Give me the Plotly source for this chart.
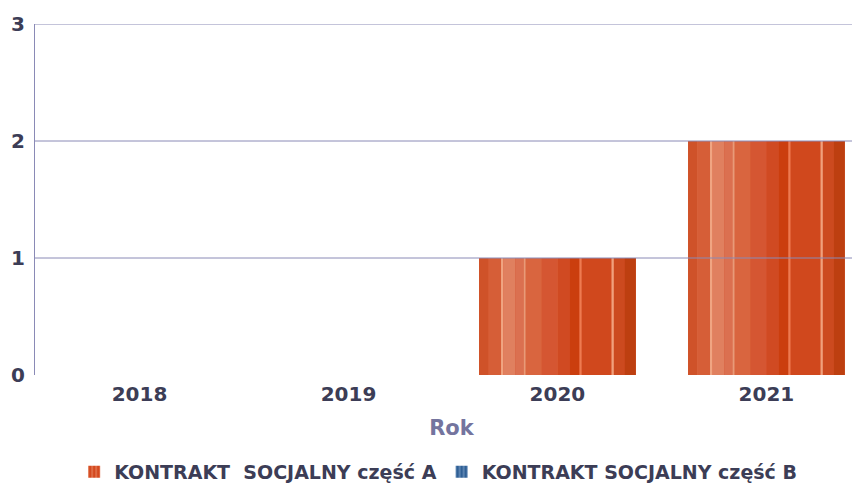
import plotly.graph_objects as go

years = ["2018", "2019", "2020", "2021"]
part_a = [0, 0, 1, 2]
part_b = [0, 0, 0, 0]
y_ticks = [0, 1, 2, 3]

TEXT = "#3c3d56"
GRID = "#8a8ab6"
FONT = "DejaVu Sans, Verdana, sans-serif"
BAR_W = 0.75

# vertical shading of the "tube" bars: (start, end, colour) as fractions of bar width
BANDS = [
    (0.000, 0.060, "#cf5229"),
    (0.060, 0.140, "#d65e37"),
    (0.140, 0.155, "#f0a582"),
    (0.155, 0.230, "#e0805f"),
    (0.230, 0.285, "#db7050"),
    (0.285, 0.298, "#e89a78"),
    (0.298, 0.400, "#d9653f"),
    (0.400, 0.500, "#d55632"),
    (0.500, 0.580, "#d04a22"),
    (0.580, 0.640, "#cb3e0e"),
    (0.640, 0.655, "#ee7a50"),
    (0.655, 0.845, "#d0481d"),
    (0.845, 0.860, "#f0a07c"),
    (0.860, 0.930, "#cc4a1f"),
    (0.930, 1.000, "#bd3f10"),
]

fig = go.Figure()
fig.add_trace(
    go.Bar(
        x=years,
        y=part_a,
        name="KONTRAKT  SOCJALNY część A",
        width=BAR_W,
        marker=dict(
            color="#d4491f",
            line=dict(width=0),
            pattern=dict(shape="|", fgcolor="#f2a98a", size=5, solidity=0.35),
        ),
    )
)
for start, end, col in BANDS:
    fig.add_trace(
        go.Bar(
            x=years,
            y=part_a,
            width=BAR_W * (end - start),
            offset=-BAR_W / 2 + BAR_W * start,
            marker=dict(color=col, line=dict(width=0)),
            showlegend=False,
            hoverinfo="skip",
        )
    )
fig.add_trace(
    go.Bar(
        x=years,
        y=part_b,
        name="KONTRAKT SOCJALNY część B",
        width=BAR_W,
        marker=dict(
            color="#2f5f95",
            line=dict(width=0),
            pattern=dict(shape="|", fgcolor="#a9c4e2", size=5, solidity=0.35),
        ),
    )
)

# gridlines sit over the bars in the original
for v in y_ticks[1:]:
    fig.add_shape(
        type="line",
        xref="paper",
        yref="y",
        x0=0,
        x1=1,
        y0=v,
        y1=v,
        line=dict(color=GRID, width=1),
        layer="above",
    )

fig.update_layout(
    width=860,
    height=483,
    margin=dict(l=27, r=0, t=16, b=116),
    barmode="overlay",
    plot_bgcolor="white",
    paper_bgcolor="white",
    font=dict(family=FONT, color=TEXT, size=18, weight="bold"),
    showlegend=True,
    legend=dict(
        orientation="h",
        x=0.484,
        xanchor="center",
        y=-0.276,
        yanchor="middle",
        font=dict(size=19, color=TEXT, weight="bold"),
        itemwidth=30,
        traceorder="normal",
    ),
    xaxis=dict(
        range=[-0.5, 3.486],
        showgrid=False,
        showline=False,
        automargin=False,
        tickfont=dict(size=20, weight="bold"),
        ticklabelstandoff=5,
        title=dict(
            text="Rok",
            font=dict(size=21, color="#74749e", weight="bold"),
            standoff=15,
        ),
    ),
    yaxis=dict(
        range=[0, 3],
        tickvals=y_ticks,
        showgrid=False,
        zeroline=False,
        showline=True,
        linecolor=GRID,
        linewidth=1,
        ticks="",
        automargin=False,
        tickfont=dict(size=20, weight="bold"),
        ticklabelstandoff=5,
    ),
)

fig.write_html("out.html")
